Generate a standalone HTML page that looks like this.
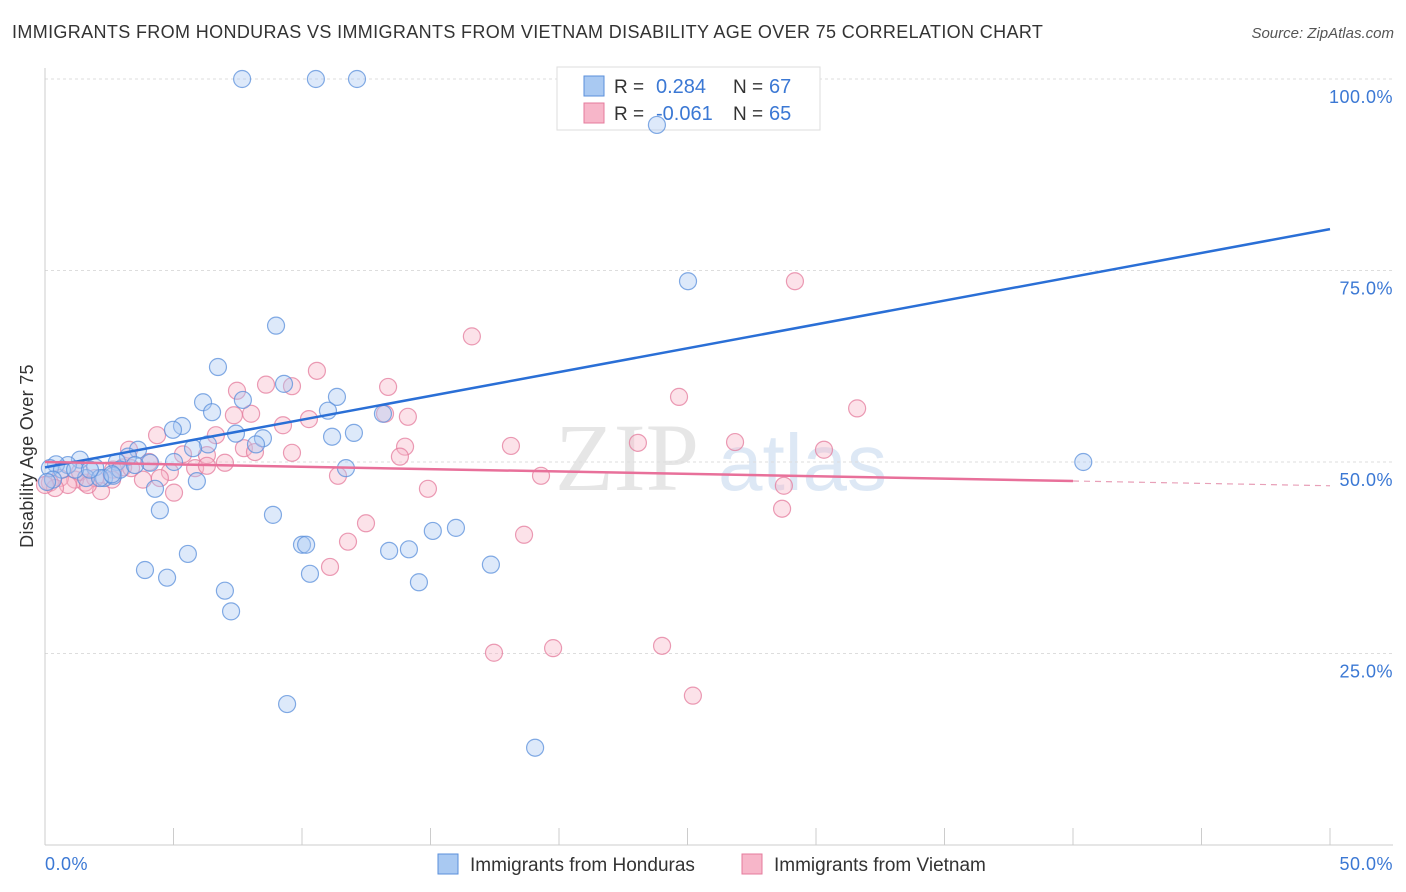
<!DOCTYPE html>
<html><head><meta charset="utf-8"><style>
body{margin:0;background:#fff;font-family:"Liberation Sans",sans-serif;}
#wrap{position:relative;width:1406px;height:892px;overflow:hidden;}
.t{position:absolute;white-space:nowrap;}
</style></head><body>
<div id="wrap">
<div class="t" style="left:12px;top:22px;font-size:18px;letter-spacing:0.36px;color:#333;">IMMIGRANTS FROM HONDURAS VS IMMIGRANTS FROM VIETNAM DISABILITY AGE OVER 75 CORRELATION CHART</div>
<div class="t" style="right:12px;top:25px;font-size:15px;color:#555;font-style:italic;">Source: ZipAtlas.com</div>
<svg id="svg" width="1406" height="892" style="position:absolute;left:0;top:0"></svg>
</div>
<script>
const xTicks=[0,50];
const yTicks=[25,50,75,100];
const hondurasX=[7.67,10.54,12.14,23.81,25.02,40.4,8.99,6.73,9.30,6.15,7.70,11.36,6.50,5.33,4.98,7.43,6.34,8.48,8.21,5.76,3.62,3.23,2.80,13.15,11.01,12.02,11.17,11.71,5.02,4.09,5.91,4.28,4.47,8.87,1.36,0.89,0.43,0.19,0.66,1.95,2.30,2.65,1.60,2.92,3.50,0.31,3.89,4.75,5.56,7.00,7.24,10.0,10.16,10.31,13.39,14.16,14.55,15.09,15.99,17.35,9.42,19.07,2.14,1.17,2.61,0.08,1.75];
const hondurasY=[100,100,100,94.0,73.6,50.0,67.8,62.4,60.2,57.8,58.1,58.5,56.5,54.7,54.2,53.7,52.3,53.1,52.3,51.8,51.6,50.7,50.0,56.3,56.7,53.8,53.3,49.2,50.0,49.9,47.5,46.5,43.7,43.1,50.3,49.6,49.7,49.2,49.0,49.3,47.9,48.2,47.9,49.0,49.6,47.7,35.9,34.9,38.0,33.2,30.5,39.2,39.2,35.4,38.4,38.6,34.3,41.0,41.4,36.6,18.4,12.7,47.9,49.0,48.4,47.4,49.0];
const vietnamX=[29.18,16.61,10.58,13.35,7.47,8.60,9.61,24.67,31.60,7.35,8.02,9.26,10.27,13.23,14.12,4.36,6.65,3.27,7.74,8.17,9.61,14.01,13.81,18.13,23.07,26.85,30.31,5.37,6.30,4.05,3.04,2.65,4.86,5.84,6.30,7.00,11.40,19.30,28.75,14.90,5.02,2.18,1.56,1.17,0.58,0.19,0.89,3.81,4.47,28.68,12.49,11.79,18.64,11.09,17.47,19.77,24.01,25.21,1.95,0.39,1.36,3.35,2.61,0,1.67];
const vietnamY=[73.6,66.4,61.9,59.8,59.3,60.1,59.9,58.5,57.0,56.1,56.3,54.8,55.6,56.3,55.9,53.5,53.5,51.6,51.8,51.3,51.2,52.0,50.7,52.1,52.5,52.6,51.6,51.0,50.9,50.0,49.3,49.0,48.7,49.2,49.5,49.9,48.2,48.2,46.9,46.5,46.0,46.2,47.3,47.7,47.9,47.3,47.0,47.7,47.9,43.9,42.0,39.6,40.5,36.3,25.1,25.7,26.0,19.5,47.9,46.6,48.7,49.2,47.7,47.0,47.0];
const blueTrend=[49.3,80.4];
const pinkTrend=[50.0,46.9];
const pinkSolidEnd=40;

const X0=45,X1=1330,YB=845,YT=79;
const sx=v=>X0+(v/50)*(X1-X0);
const sy=v=>YB-(v/100)*(YB-YT);
const svg=document.getElementById('svg');
const NS='http://www.w3.org/2000/svg';
function mk(tag,attrs){const e=document.createElementNS(NS,tag);for(const k in attrs)e.setAttribute(k,attrs[k]);svg.appendChild(e);return e;}
function txt(x,y,s,attrs){const e=mk('text',Object.assign({x:x,y:y,'font-family':'Liberation Sans, sans-serif'},attrs));e.textContent=s;return e;}

// watermark
let w=txt(555,490,'ZIP',{'font-size':96,'font-family':'Liberation Serif, serif',fill:'#e6e6e6'});


w=txt(718,490,'atlas',{'font-size':80,fill:'#dde8f5'});



// gridlines and y labels
yTicks.forEach(v=>{
 const g=mk('line',{x1:X0,x2:1393,y1:sy(v),y2:sy(v),stroke:'#ddd','stroke-dasharray':'3,3'});
 
 
 const t=txt(1393,sy(v)+24,v.toFixed(1)+'%',{'font-size':18,'letter-spacing':0.5,fill:'#3b78d4','text-anchor':'end'});
 
 
});
// axes
let a=mk('line',{x1:X0,x2:X0,y1:68,y2:YB,stroke:'#ccc'});


a=mk('line',{x1:X0,x2:1393,y1:YB,y2:YB,stroke:'#ccc'});


for(let i=1;i<=10;i++){const x=X0+i*(X1-X0)/10;const tk=mk('line',{x1:x,x2:x,y1:828,y2:YB,stroke:'#ccc'});
 
 }
xTicks.forEach((v,i)=>{const t=txt(i?1393:45,870,v.toFixed(1)+'%',{'font-size':18,'letter-spacing':0.5,fill:'#3b78d4','text-anchor':i?'end':'start'});
 
 });
let yl=txt(0,0,'Disability Age Over 75',{'font-size':18,'letter-spacing':0.3,fill:'#333','text-anchor':'middle',transform:'translate(33,456) rotate(-90)'});



// top legend (behind points)
let r=mk('rect',{x:557,y:67,width:263,height:63,fill:'#fff',stroke:'#ddd'});


[['#a9c9f2','#5a8fdb','0.284','67',86],['#f7b6c9','#e47b9c','-0.061','65',113]].forEach((d,i)=>{
 const s=mk('rect',{x:584,y:d[4]-10,width:20,height:20,fill:d[0],stroke:d[1]});
 
 
 let t=txt(614,d[4]+7,'R = ',{'font-size':19,fill:'#333'});
 
 
 t=txt(656,d[4]+7,d[2],{'font-size':20,fill:'#3b78d4'});
 
 
 t=txt(733,d[4]+7,'N = ',{'font-size':19,fill:'#333'});
 
 
 t=txt(769,d[4]+7,d[3],{'font-size':20,fill:'#3b78d4'});
 
 
});

// points
function pts(xs,ys,fill,stroke,name){xs.forEach((x,i)=>{const c=mk('circle',{cx:sx(x),cy:sy(ys[i]),r:8.5,fill:fill,'fill-opacity':0.4,stroke:stroke,'stroke-width':1.2,'stroke-opacity':0.75});
 
 });}
pts(vietnamX,vietnamY,'#f7b6c9','#e47b9c','vietnam-point');
pts(hondurasX,hondurasY,'#a9c9f2','#5a8fdb','honduras-point');

// trends
let l=mk('line',{x1:sx(0),y1:sy(blueTrend[0]),x2:sx(50),y2:sy(blueTrend[1]),stroke:'#2a6fd6','stroke-width':2.5});


const pm=pinkTrend[0]+(pinkTrend[1]-pinkTrend[0])*pinkSolidEnd/50;
l=mk('line',{x1:sx(0),y1:sy(pinkTrend[0]),x2:sx(pinkSolidEnd),y2:sy(pm),stroke:'#e8709a','stroke-width':2.5});


l=mk('line',{x1:sx(pinkSolidEnd),y1:sy(pm),x2:sx(50),y2:sy(pinkTrend[1]),stroke:'#e8a0b8','stroke-width':1.2,'stroke-dasharray':'6,5'});



// bottom legend
[[438,'#a9c9f2','#5a8fdb','Immigrants from Honduras'],[742,'#f7b6c9','#e47b9c','Immigrants from Vietnam']].forEach((d,i)=>{
 const s=mk('rect',{x:d[0],y:854,width:20,height:20,fill:d[1],stroke:d[2]});
 
 
 const t=txt(d[0]+32,871,d[3],{'font-size':19,fill:'#333'});
 
 
});
</script>
</body></html>
